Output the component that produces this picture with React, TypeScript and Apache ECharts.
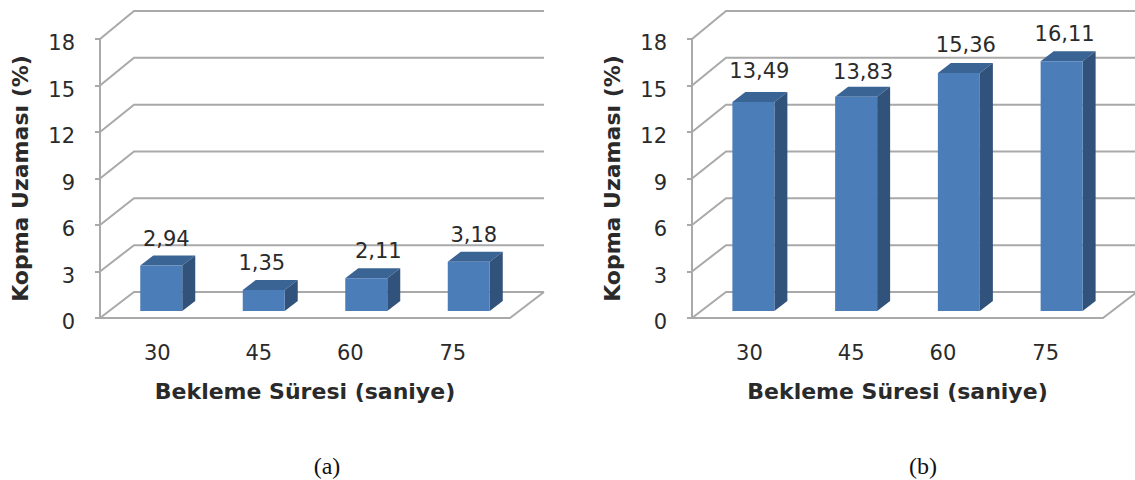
import React, { useEffect, useRef } from "react";
import * as echarts from "echarts";

const categories = ["30", "45", "60", "75"];
const valuesA = [2.94, 1.35, 2.11, 3.18];
const valuesB = [13.49, 13.83, 15.36, 16.11];
const wallTicks = [0, 3, 6, 9, 12, 15, 18];

// Horizontal shift of each category label from its band centre.
const categoryLabelShift = [6, 5, -6, -6];
// Value label offsets from the bar's front-top edge centre, [dx, dy].
const labelShiftA = [[5, -26], [-2, -27], [12, -27], [5, -27]];
const labelShiftB = [[6, -31], [7, -25], [7, -28], [3, -27]];

const GRID_COLOR = "#a9a9a9";
const TEXT_COLOR = "#2a2a2a";
const TICK_FONT = "DejaVu Sans";
const TITLE_FONT = "DejaVu Sans";
const TICK_SIZE = 21;
const TITLE_SIZE = 22;

const DEPTH_X = 34;
const BAR_PLANE_X = 10;
const BAR_PLANE_Y = 7;
const BAR_WIDTH = 42;
const SIDE_X = 13;
const SIDE_Y = 10;

const comma = (v: number) => v.toFixed(2).replace(".", ",");

// Back wall lines, their slanted returns to the value axis, and the right floor edge.
function renderWall(params: any, api: any) {
  const cs = params.coordSys;
  const v = api.value(1);
  const y = api.coord([0, v])[1];
  const backY = y - 26 - (2 * v) / 18;
  const lineStyle = { stroke: GRID_COLOR, lineWidth: 2, fill: "none" };
  const children: any[] = [
    {
      type: "polyline",
      shape: {
        points: [
          [cs.x, y],
          [cs.x + DEPTH_X, backY],
          [cs.x + cs.width + DEPTH_X, backY],
        ],
      },
      style: lineStyle,
    },
  ];
  if (v === 0) {
    children.push({
      type: "line",
      shape: { x1: cs.x + cs.width, y1: y, x2: cs.x + cs.width + DEPTH_X, y2: backY },
      style: lineStyle,
    });
  }
  return { type: "group", children };
}

// Pseudo-3D column: front face, top face, side face and its value label.
const renderBar = (shifts: number[][]) => (params: any, api: any) => {
  const i = api.value(0);
  const v = api.value(1);
  const top = api.coord([i, v]);
  const base = api.coord([i, 0]);
  const xl = top[0] + BAR_PLANE_X - BAR_WIDTH / 2;
  const xr = xl + BAR_WIDTH;
  const yt = top[1] - BAR_PLANE_Y;
  const yb = base[1] - BAR_PLANE_Y;
  const [dx, dy] = shifts[i];
  return {
    type: "group",
    children: [
      {
        type: "polygon",
        shape: { points: [[xl, yt], [xr, yt], [xr + SIDE_X, yt - SIDE_Y], [xl + SIDE_X, yt - SIDE_Y]] },
        style: { fill: "#3a6494" },
      },
      {
        type: "polygon",
        shape: { points: [[xr, yt], [xr + SIDE_X, yt - SIDE_Y], [xr + SIDE_X, yb - SIDE_Y], [xr, yb]] },
        style: { fill: "#31527b" },
      },
      {
        type: "rect",
        shape: { x: xl, y: yt, width: BAR_WIDTH, height: yb - yt },
        style: { fill: "#4b7db9" },
      },
      {
        type: "text",
        x: (xl + xr) / 2 + dx,
        y: yt + dy,
        style: {
          text: comma(v),
          fill: TEXT_COLOR,
          font: `${TICK_SIZE}px "${TICK_FONT}"`,
          align: "center",
          verticalAlign: "middle",
        },
      },
    ],
  };
};

const labelRich = Object.fromEntries(
  categoryLabelShift.map((s, i) => [
    `c${i}`,
    {
      color: TEXT_COLOR,
      fontFamily: TICK_FONT,
      fontSize: TICK_SIZE,
      padding: s > 0 ? [0, 0, 0, 2 * s] : [0, -2 * s, 0, 0],
    },
  ]),
);

function axesFor(gridIndex: number) {
  return {
    x: {
      type: "category",
      gridIndex,
      data: categories,
      name: "Bekleme Süresi (saniye)",
      nameLocation: "middle",
      nameGap: 62,
      nameTextStyle: { fontFamily: TITLE_FONT, fontWeight: "bold", fontSize: TITLE_SIZE, color: TEXT_COLOR },
      axisLine: { lineStyle: { color: GRID_COLOR, width: 2 } },
      axisTick: { show: false },
      axisLabel: {
        margin: 24,
        interval: 0,
        formatter: (value: string, index: number) => `{c${index}|${value}}`,
        rich: labelRich,
      },
      splitLine: { show: false },
    },
    y: {
      type: "value",
      gridIndex,
      min: 0,
      max: 18,
      interval: 3,
      name: "Kopma Uzaması (%)",
      nameLocation: "middle",
      nameRotate: 90,
      nameGap: 69,
      nameTextStyle: { fontFamily: TITLE_FONT, fontWeight: "bold", fontSize: TITLE_SIZE, color: TEXT_COLOR },
      axisLine: { show: true, lineStyle: { color: GRID_COLOR, width: 2 } },
      axisTick: { show: true, length: 5, lineStyle: { color: GRID_COLOR, width: 2 } },
      axisLabel: {
        margin: 25,
        formatter: (value: number) => `{v|${value}}`,
        rich: {
          // Top padding sits the digits slightly below their tick marks.
          v: { color: TEXT_COLOR, fontFamily: TICK_FONT, fontSize: TICK_SIZE, padding: [8, 0, 0, 0] },
        },
      },
      splitLine: { show: false },
    },
  };
}

export default function App() {
  const ref = useRef<HTMLDivElement>(null);

  useEffect(() => {
    const chart = echarts.init(ref.current!, undefined, { renderer: "svg" });
    const a = axesFor(0);
    const b = axesFor(1);
    const wallData = wallTicks.map((t) => [0, t]);
    chart.setOption({
      animation: false,
      backgroundColor: "#ffffff",
      grid: [
        { left: 100, top: 39, width: 410, height: 279 },
        { left: 692, top: 39, width: 411, height: 279 },
      ],
      xAxis: [a.x, b.x],
      yAxis: [a.y, b.y],
      series: [
        { type: "custom", xAxisIndex: 0, yAxisIndex: 0, clip: false, z: 1, data: wallData, renderItem: renderWall, silent: true },
        { type: "custom", xAxisIndex: 1, yAxisIndex: 1, clip: false, z: 1, data: wallData, renderItem: renderWall, silent: true },
        { type: "custom", xAxisIndex: 0, yAxisIndex: 0, clip: false, z: 5, data: valuesA.map((v, i) => [i, v]), renderItem: renderBar(labelShiftA) },
        { type: "custom", xAxisIndex: 1, yAxisIndex: 1, clip: false, z: 5, data: valuesB.map((v, i) => [i, v]), renderItem: renderBar(labelShiftB) },
      ],
      graphic: [
        { type: "text", x: 327, y: 466, style: { text: "(a)", fill: "#111", font: '24px "Liberation Serif"', align: "center", verticalAlign: "middle" } },
        { type: "text", x: 923, y: 466, style: { text: "(b)", fill: "#111", font: '24px "Liberation Serif"', align: "center", verticalAlign: "middle" } },
      ],
    });
    return () => chart.dispose();
  }, []);

  return <div ref={ref} style={{ position: "absolute", left: 0, top: 0, width: 1135, height: 480 }} />;
}
